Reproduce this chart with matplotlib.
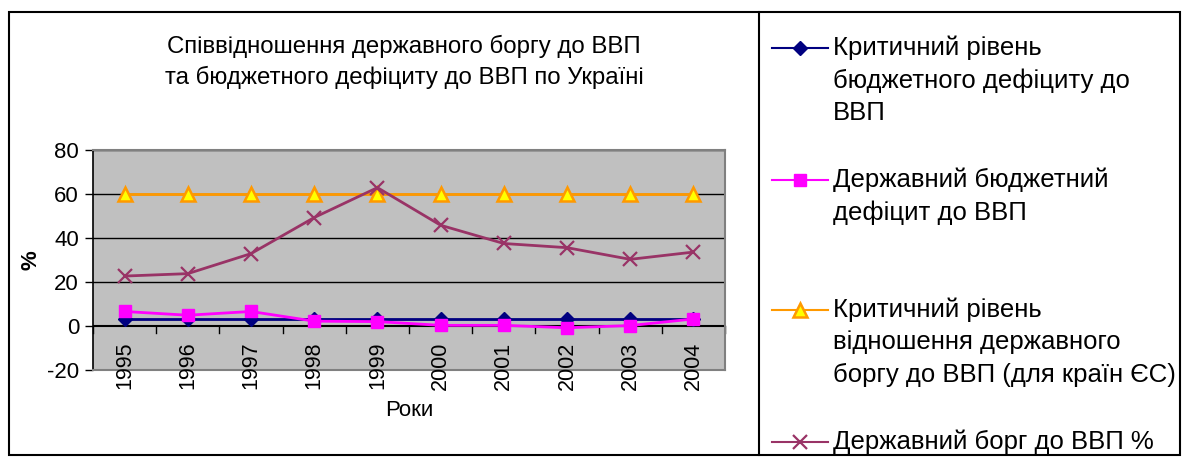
import matplotlib
matplotlib.use("Agg")
import matplotlib.pyplot as plt
from matplotlib.lines import Line2D
from matplotlib.patches import Rectangle
import numpy as np

plt.rcParams['font.family'] = ['Liberation Sans', 'DejaVu Sans']
plt.rcParams['axes.unicode_minus'] = False

years = ['1995', '1996', '1997', '1998', '1999', '2000', '2001', '2002', '2003', '2004']
critical_deficit = [3, 3, 3, 3, 3, 3, 3, 3, 3, 3]
budget_deficit = [6.6, 4.9, 6.6, 2.2, 2.0, 0.3, 0.3, -0.8, 0.2, 3.2]
critical_debt = [60, 60, 60, 60, 60, 60, 60, 60, 60, 60]
public_debt = [22.7, 23.8, 32.9, 49.3, 62.9, 45.8, 37.5, 35.6, 30.3, 33.6]

title = "Співвідношення державного боргу до ВВП\nта бюджетного дефіциту до ВВП по Україні"
x_label = "Роки"
y_label = "%"
legend_labels = [
    ["Критичний рівень", "бюджетного дефіциту до", "ВВП"],
    ["Державний бюджетний", "дефіцит до ВВП"],
    ["Критичний рівень", "відношення державного", "боргу до ВВП (для країн ЄС)"],
    ["Державний борг до ВВП %"],
]

W, H = 1184, 457
fig = plt.figure(figsize=(W / 100, H / 100), dpi=100)

def fx(px):
    return px / W

def fy(py):
    return 1 - py / H

ax = fig.add_axes([fx(93), fy(370), fx(725) - fx(93), fy(150) - fy(370)])
ax.set_facecolor('#C0C0C0')

x = np.arange(len(years))
styles = [
    dict(color='#000080', marker='D', markersize=7, markerfacecolor='#000080',
         markeredgecolor='#000080', linewidth=2),
    dict(color='#FF00FF', marker='s', markersize=9, markerfacecolor='#FF00FF',
         markeredgecolor='#FF00FF', linewidth=2),
    dict(color='#FF9900', marker='^', markersize=10, markerfacecolor='#FFFF00',
         markeredgecolor='#FF9900', markeredgewidth=1.8, linewidth=2),
    dict(color='#993366', marker='x', markersize=10, markeredgewidth=1.6,
         markeredgecolor='#993366', linewidth=2),
]
series = [critical_deficit, budget_deficit, critical_debt, public_debt]
for vals, st in zip(series, styles):
    ax.plot(x, vals, zorder=3, clip_on=False, **st)

ax.set_xlim(-0.5, len(years) - 0.5)
ax.set_ylim(-20, 80)
ax.set_yticks([-20, 0, 20, 40, 60, 80])
ax.tick_params(axis='y', labelsize=16, length=6, width=1, direction='out', pad=4)
for v in [20, 40, 60, 80]:
    ax.axhline(v, color='black', linewidth=1, zorder=1)

# category axis drawn at zero with ticks between categories
ax.axhline(0, color='black', linewidth=1.5, zorder=2)
ax.set_xticks([])
for b in np.arange(-0.5, len(years), 1.0):
    ax.plot([b, b], [0, -3], color='black', linewidth=1, zorder=2, clip_on=False)
for xi, lab in zip(x, years):
    ax.text(xi, -7.2, lab, rotation=90, ha='center', va='top', fontsize=15.5, zorder=4)

for side in ['top', 'right', 'bottom']:
    ax.spines[side].set_color('#808080')
    ax.spines[side].set_linewidth(1.5)
ax.spines['left'].set_color('black')
ax.spines['left'].set_linewidth(1.2)

fig.text(fx(404), fy(46), title.split('\n')[0], ha='center', va='center', fontsize=17.3)
fig.text(fx(404), fy(77), title.split('\n')[1], ha='center', va='center', fontsize=17.3)
fig.text(fx(409), fy(411), x_label, ha='center', va='center', fontsize=16)
fig.text(fx(31), fy(260), y_label, ha='center', va='center', fontsize=16,
         fontweight='bold', rotation=90)

# outer frame and divider
fig.patches.append(Rectangle((fx(9), fy(455)), fx(1180) - fx(9), fy(12) - fy(455),
                             transform=fig.transFigure, fill=False,
                             edgecolor='black', linewidth=1.5))
fig.lines.append(Line2D([fx(759), fx(759)], [fy(12), fy(455)],
                        transform=fig.transFigure, color='black', linewidth=1.5))

# legend
rows = [[48, 81, 113], [180, 213], [310, 342, 375], [442]]
for st, lines, ys in zip(styles, legend_labels, rows):
    fig.lines.append(Line2D([fx(772), fx(828)], [fy(ys[0])] * 2,
                            transform=fig.transFigure, color=st['color'],
                            linewidth=1.5))
    mk = {k: v for k, v in st.items() if k.startswith('marker')}
    fig.lines.append(Line2D([fx(800)], [fy(ys[0])], transform=fig.transFigure,
                            linestyle='none', **mk))
    for txt, yy in zip(lines, ys):
        fig.text(fx(833), fy(yy), txt, ha='left', va='center', fontsize=18.5)

fig.savefig('out.png', dpi=100)
